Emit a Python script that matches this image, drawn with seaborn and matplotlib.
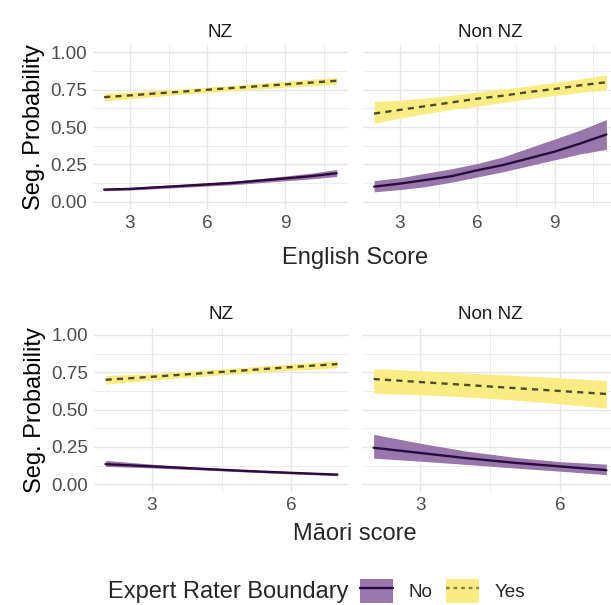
import numpy as np
import pandas as pd
import matplotlib
matplotlib.use("Agg")
import matplotlib.pyplot as plt
from matplotlib.patches import Patch
from matplotlib.lines import Line2D
from matplotlib.legend_handler import HandlerTuple
from matplotlib.ticker import MultipleLocator
import seaborn as sns

sns.set_theme(style="whitegrid")
plt.rcParams["font.family"] = ["Liberation Sans", "DejaVu Sans"]

# ---- predicted segmentation probabilities -------------------------------
groups = ["NZ", "Non NZ"]
boundary_levels = ["No", "Yes"]

english_x = [2, 3, 4, 5, 6, 7, 8, 9, 10, 11]
eng_nz_no = [0.080, 0.085, 0.095, 0.105, 0.115, 0.125, 0.140, 0.155, 0.170, 0.190]
eng_nz_no_lo = [0.072, 0.077, 0.086, 0.095, 0.104, 0.113, 0.126, 0.139, 0.152, 0.168]
eng_nz_no_hi = [0.088, 0.093, 0.104, 0.115, 0.126, 0.138, 0.154, 0.171, 0.190, 0.215]
eng_nz_yes = [0.700, 0.712, 0.725, 0.737, 0.750, 0.762, 0.774, 0.786, 0.798, 0.810]
eng_nz_yes_lo = [0.675, 0.690, 0.705, 0.719, 0.732, 0.744, 0.755, 0.766, 0.776, 0.786]
eng_nz_yes_hi = [0.725, 0.734, 0.745, 0.755, 0.768, 0.780, 0.793, 0.806, 0.820, 0.832]
eng_non_no = [0.100, 0.120, 0.145, 0.170, 0.210, 0.245, 0.290, 0.335, 0.390, 0.450]
eng_non_no_lo = [0.065, 0.080, 0.100, 0.130, 0.165, 0.200, 0.240, 0.280, 0.320, 0.350]
eng_non_no_hi = [0.140, 0.160, 0.190, 0.220, 0.255, 0.300, 0.360, 0.420, 0.480, 0.550]
eng_non_yes = [0.590, 0.615, 0.640, 0.665, 0.690, 0.710, 0.735, 0.755, 0.780, 0.800]
eng_non_yes_lo = [0.525, 0.560, 0.590, 0.618, 0.640, 0.665, 0.690, 0.712, 0.732, 0.750]
eng_non_yes_hi = [0.670, 0.680, 0.695, 0.712, 0.735, 0.755, 0.775, 0.798, 0.822, 0.850]

maori_x = [2, 3, 4, 5, 6, 7]
mao_nz_no = [0.135, 0.120, 0.105, 0.090, 0.077, 0.065]
mao_nz_no_lo = [0.120, 0.110, 0.097, 0.083, 0.070, 0.058]
mao_nz_no_hi = [0.160, 0.135, 0.115, 0.098, 0.085, 0.073]
mao_nz_yes = [0.700, 0.720, 0.742, 0.763, 0.785, 0.805]
mao_nz_yes_lo = [0.670, 0.698, 0.722, 0.744, 0.763, 0.780]
mao_nz_yes_hi = [0.728, 0.742, 0.762, 0.783, 0.806, 0.828]
mao_non_no = [0.245, 0.210, 0.175, 0.145, 0.120, 0.095]
mao_non_no_lo = [0.175, 0.155, 0.133, 0.110, 0.088, 0.065]
mao_non_no_hi = [0.335, 0.275, 0.222, 0.182, 0.152, 0.135]
mao_non_yes = [0.705, 0.685, 0.665, 0.645, 0.625, 0.605]
mao_non_yes_lo = [0.610, 0.600, 0.585, 0.565, 0.540, 0.510]
mao_non_yes_hi = [0.775, 0.760, 0.745, 0.730, 0.713, 0.695]

english_ticks = [3, 6, 9]
maori_ticks = [3, 6]
y_ticks = [0.00, 0.25, 0.50, 0.75, 1.00]
y_tick_labels = ["0.00", "0.25", "0.50", "0.75", "1.00"]


def long_frame(x, series):
    rows = []
    for (grp, lvl), (fit, lo, hi) in series.items():
        for xi, f, l, h in zip(x, fit, lo, hi):
            rows.append(dict(group=grp, boundary=lvl, score=xi, prob=f, lo=l, hi=h))
    return pd.DataFrame(rows)


english_df = long_frame(english_x, {
    ("NZ", "No"): (eng_nz_no, eng_nz_no_lo, eng_nz_no_hi),
    ("NZ", "Yes"): (eng_nz_yes, eng_nz_yes_lo, eng_nz_yes_hi),
    ("Non NZ", "No"): (eng_non_no, eng_non_no_lo, eng_non_no_hi),
    ("Non NZ", "Yes"): (eng_non_yes, eng_non_yes_lo, eng_non_yes_hi),
})
maori_df = long_frame(maori_x, {
    ("NZ", "No"): (mao_nz_no, mao_nz_no_lo, mao_nz_no_hi),
    ("NZ", "Yes"): (mao_nz_yes, mao_nz_yes_lo, mao_nz_yes_hi),
    ("Non NZ", "No"): (mao_non_no, mao_non_no_lo, mao_non_no_hi),
    ("Non NZ", "Yes"): (mao_non_yes, mao_non_yes_lo, mao_non_yes_hi),
})

# ---- styling -------------------------------------------------------------
fill_colors = {"No": "#9877ab", "Yes": "#f8ec82"}
line_colors = {"No": "#2b0b3c", "Yes": "#4f4b2c"}
dash_styles = {"No": "", "Yes": (2.6, 2.2)}
LW = 1.7
TICK_FS = 13.6
TITLE_FS = 17
GRID = "#e6e6e6"

W, H = 611, 605
fig = plt.figure(figsize=(W / 100, H / 100), dpi=100)


def add_axes(left, right, top, bottom):
    return fig.add_axes([left / W, 1 - bottom / H, (right - left) / W, (bottom - top) / H])


def draw_panel(ax, df, grp, xticks, xlim, minor, show_y):
    sub = df[df["group"] == grp]
    for lvl in boundary_levels:
        part = sub[sub["boundary"] == lvl]
        ax.fill_between(part["score"], part["lo"], part["hi"],
                        color=fill_colors[lvl], lw=0, zorder=2)
    sns.lineplot(data=sub, x="score", y="prob", hue="boundary", style="boundary",
                 palette=line_colors, dashes=dash_styles, hue_order=boundary_levels,
                 style_order=boundary_levels, linewidth=LW, ax=ax, legend=False,
                 zorder=3)
    ax.set_xlim(*xlim)
    ax.set_ylim(-0.05, 1.05)
    ax.set_xticks(xticks)
    ax.xaxis.set_minor_locator(MultipleLocator(minor))
    ax.set_yticks(y_ticks)
    ax.yaxis.set_minor_locator(MultipleLocator(0.125))
    if show_y:
        ax.set_yticklabels(y_tick_labels)
    else:
        ax.set_yticklabels([])
    ax.tick_params(axis="both", which="both", length=0, labelsize=TICK_FS,
                   labelcolor="#4d4d4d", pad=4)
    ax.grid(True, which="major", color=GRID, lw=1.0)
    ax.grid(True, which="minor", color=GRID, lw=0.5)
    ax.set_axisbelow(True)
    ax.set_facecolor("white")
    for s in ax.spines.values():
        s.set_visible(False)
    ax.set_xlabel("")
    ax.set_ylabel("")
    ax.set_title(grp, fontsize=TICK_FS, color="#1a1a1a", pad=6)


# English score row
ax1 = add_axes(92.5, 348.3, 45, 209)
ax2 = add_axes(362.5, 618, 45, 209)
draw_panel(ax1, english_df, "NZ", english_ticks, (1.55, 11.45), 1.5, True)
draw_panel(ax2, english_df, "Non NZ", english_ticks, (1.55, 11.45), 1.5, False)

# Maori score row
ax3 = add_axes(94, 349, 327.5, 491.8)
ax4 = add_axes(362, 618, 327.5, 491.8)
draw_panel(ax3, maori_df, "NZ", maori_ticks, (1.75, 7.25), 1.5, True)
draw_panel(ax4, maori_df, "Non NZ", maori_ticks, (1.75, 7.25), 1.5, False)

for ax in (ax1, ax3):
    ax.set_ylabel("Seg. Probability", fontsize=TITLE_FS, color="black", labelpad=4)

fig.text(355 / W, 1 - 258 / H, "English Score", fontsize=TITLE_FS,
         ha="center", va="center")
fig.text(355 / W, 1 - 534 / H, "Māori score", fontsize=TITLE_FS,
         ha="center", va="center")

# Legend: filled key with the line drawn across it
fig.text(108 / W, 1 - 592 / H, "Expert Rater Boundary", fontsize=TITLE_FS,
         ha="left", va="center")
legend_line_colors = {"No": "#2b0b3c", "Yes": "#8c8330"}
legend_dashes = {"No": (None, None), "Yes": (1.6, 1.6)}
handles = []
for lvl in boundary_levels:
    patch = Patch(facecolor=fill_colors[lvl], edgecolor="none")
    line = Line2D([0], [0], color=legend_line_colors[lvl], lw=LW,
                  dashes=legend_dashes[lvl])
    handles.append((patch, line))
fig.legend(handles, boundary_levels, handler_map={tuple: HandlerTuple(ndivide=1)},
           loc="center left", bbox_to_anchor=(360 / W, 1 - 591 / H), ncol=2,
           frameon=False, fontsize=TICK_FS, handlelength=1.75, handleheight=1.6,
           handletextpad=0.8, columnspacing=0.75, borderpad=0, borderaxespad=0)

fig.savefig("out.png", dpi=100, facecolor="white")
